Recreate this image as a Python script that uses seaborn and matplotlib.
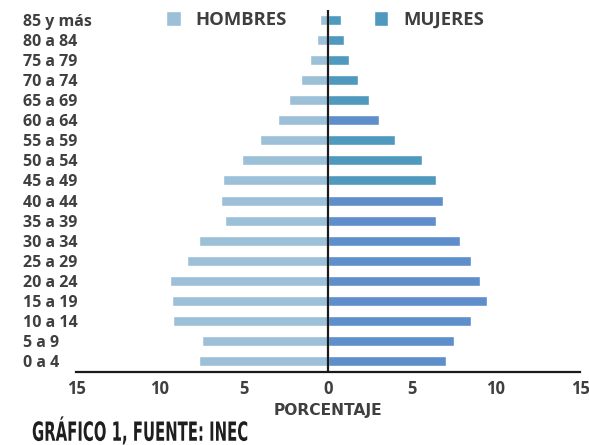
import matplotlib
matplotlib.use("Agg")
import matplotlib.pyplot as plt
import matplotlib.ticker as mticker
from matplotlib.patheffects import AbstractPathEffect
from matplotlib.transforms import Affine2D
import pandas as pd
import seaborn as sns

# Age groups from oldest (top) to youngest (bottom)
grupos = ["85 y más", "80 a 84", "75 a 79", "70 a 74", "65 a 69", "60 a 64",
          "55 a 59", "50 a 54", "45 a 49", "40 a 44", "35 a 39", "30 a 34",
          "25 a 29", "20 a 24", "15 a 19", "10 a 14", "5 a 9", "0 a 4"]

# Percent of population per age group
hombres = [0.5, 0.65, 1.1, 1.6, 2.3, 3.0, 4.05, 5.1, 6.25, 6.35, 6.15, 7.7,
           8.4, 9.4, 9.3, 9.2, 7.5, 7.65]
mujeres = [0.75, 0.95, 1.25, 1.8, 2.45, 3.05, 4.0, 5.6, 6.4, 6.85, 6.4, 7.85,
           8.5, 9.05, 9.45, 8.5, 7.5, 7.0]

sexos = ["HOMBRES", "MUJERES"]
ticks = [-15, -10, -5, 0, 5, 10, 15]

# Fill colours: men light blue, women in two blue tones
color_h = "#9cc0d8"
teal, azul = "#4f98be", "#5e8fcb"
tonos_m = [teal, teal, teal, teal, teal, azul, teal, teal, teal,
           azul, azul, azul, azul, azul, azul, azul, azul, azul]


class Stretch(AbstractPathEffect):
    """Vertically stretch glyphs about a fixed y (display px)."""

    def __init__(self, sy, y0):
        super().__init__()
        self.sy, self.y0 = sy, y0

    def draw_path(self, renderer, gc, tpath, affine, rgbFace=None):
        t = affine + Affine2D().translate(0, -self.y0).scale(1, self.sy).translate(0, self.y0)
        renderer.draw_path(gc, tpath, t, rgbFace)


df = pd.concat([
    pd.DataFrame({"edad": grupos, "valor": [-v for v in hombres], "sexo": sexos[0]}),
    pd.DataFrame({"edad": grupos, "valor": mujeres, "sexo": sexos[1]}),
])

sns.set_style("white")
plt.rcParams["font.family"] = ["Open Sans", "DejaVu Sans"]
txt = "#3f3f3f"

W, H = 589, 445
fig = plt.figure(figsize=(W / 100, H / 100), dpi=100)
ax = fig.add_axes([76 / W, 1 - 372 / H, (580 - 76) / W, (372 - 10) / H])

sns.barplot(data=df, x="valor", y="edad", hue="sexo", order=grupos,
            hue_order=sexos, palette=[color_h, teal], dodge=False, width=0.5,
            saturation=1, orient="h", ax=ax)

# women's bars are the second container
for patch, c in zip(ax.containers[1], tonos_m):
    patch.set_facecolor(c)

ax.set_xlim(-15, 15)
ax.set_ylim(len(grupos) - 0.45, -0.5)
ax.axvline(0, color="#1a1a1a", lw=1.6, zorder=5)

for s in ["top", "right", "left"]:
    ax.spines[s].set_visible(False)
ax.spines["bottom"].set_color("#1a1a1a")
ax.spines["bottom"].set_linewidth(1.6)

ax.set_xticks(ticks)
ax.xaxis.set_major_formatter(mticker.FuncFormatter(lambda v, p: f"{abs(int(v))}"))
ax.tick_params(axis="x", direction="inout", length=5, width=1.2, color="#1a1a1a",
               labelsize=12, labelcolor=txt, pad=3)
for lab in ax.get_xticklabels():
    lab.set_fontweight("bold")

ax.tick_params(axis="y", length=0, pad=38, labelsize=11.5, labelcolor=txt)
for lab in ax.get_yticklabels():
    lab.set_fontweight("bold")
    lab.set_horizontalalignment("left")

ax.set_ylabel("")
ax.set_xlabel("PORCENTAJE", fontsize=11.2, fontweight="bold", color=txt, labelpad=4,
              family="DejaVu Sans")

handles, labels = ax.get_legend_handles_labels()
ax.legend(handles, labels, loc="center", bbox_to_anchor=(0.494, 0.972), ncol=2,
          frameon=False, handlelength=0.8, handleheight=0.85, handletextpad=0.8,
          columnspacing=4.7, prop={"weight": "bold", "size": 13.3},
          labelcolor=txt)

# condensed caption: font sized to the target width, glyphs stretched upward
y0 = H - 431
titulo = fig.text(32 / W, y0 / H, "GRÁFICO 1, FUENTE: INEC",
                  family="DejaVu Sans", fontweight="bold", fontsize=19,
                  color="#1e1e1e", va="center", ha="left")
fig.canvas.draw()
f = 216 / titulo.get_window_extent().width
titulo.set_fontsize(19 * f)
titulo.set_path_effects([Stretch(1 / f, y0)])

fig.savefig("out.png", dpi=100, facecolor="white")
